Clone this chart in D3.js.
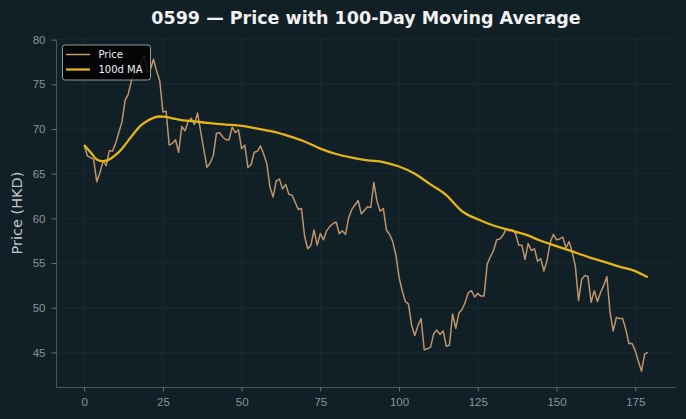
<!DOCTYPE html>
<meta charset="utf-8">
<style>
  body { margin: 0; background: #111f27; }
  svg { display: block; font-family: "DejaVu Sans", sans-serif; }
  .tick text { fill: #8d9399; font-size: 11.5px; }
  .tick line { stroke: #6b7176; }
  .domain { stroke: #4c5357; }
</style>
<body>
<script src="https://d3js.org/d3.v7.min.js"></script>
<script>

// daily closing price, day 0..179
var price = [
  68.2, 67.0, 66.8, 66.6, 64.1, 65.1, 66.4, 65.9, 67.6, 67.5,
  68.4, 69.6, 70.8, 73.2, 73.9, 75.4, 76.2, 76.7, 77.5, 78.3,
  76.4, 76.6, 77.8, 76.5, 75.4, 71.9, 72.0, 68.2, 68.4, 68.8,
  67.4, 70.3, 69.8, 70.8, 71.2, 70.5, 71.8, 69.7, 67.7, 65.7,
  66.2, 67.0, 69.5, 69.6, 69.1, 68.8, 68.8, 70.2, 69.6, 69.9,
  67.8, 68.2, 65.7, 66.0, 67.4, 67.5, 68.1, 67.2, 66.1, 63.5,
  62.4, 64.2, 64.4, 63.3, 63.8, 62.7, 62.6, 61.8, 61.0, 61.1,
  58.0, 56.6, 57.0, 58.7, 57.0, 58.3, 57.6, 58.6, 59.1, 59.4,
  59.6, 58.3, 58.6, 58.2, 60.1, 61.0, 61.5, 62.0, 60.5, 60.9,
  61.3, 61.2, 64.0, 61.9, 60.8, 61.1, 58.7, 58.2, 57.4, 55.9,
  53.4, 51.9, 50.7, 50.4, 48.0, 46.9, 48.0, 48.8, 45.3, 45.4,
  45.6, 47.1, 47.5, 47.0, 47.4, 45.7, 45.8, 49.3, 47.7, 49.4,
  49.8, 50.6, 51.7, 51.9, 51.2, 51.6, 51.3, 51.3, 54.9, 55.7,
  56.4, 57.6, 57.7, 58.1, 58.8, 58.6, 58.7, 58.3, 57.0, 57.0,
  55.4, 57.2, 56.4, 56.6, 55.2, 55.5, 54.1, 55.3, 57.3, 58.2,
  57.6, 57.7, 57.9, 56.7, 57.4, 56.2, 54.6, 50.8, 53.2, 53.6,
  53.5, 50.6, 51.9, 50.7, 51.7, 52.5, 53.5, 49.5, 47.4, 48.9,
  48.8, 48.8, 47.6, 46.0, 46.0, 45.2, 44.0, 42.9, 44.8, 45.0
];

// 100-day moving average, read at these days
var maDays = [0, 2, 4, 6, 8, 10, 12, 14, 16, 18, 20, 22, 24, 26, 28, 30, 35, 40, 45, 50,
  55, 60, 65, 70, 75, 80, 85, 90, 95, 100, 105, 110, 115, 120, 125, 130, 135, 140, 145, 150,
  155, 160, 165, 170, 175, 179];
var maValues = [68.2, 67.4, 66.6, 66.4, 66.6, 67.1, 67.8, 68.7, 69.6, 70.4, 70.9, 71.25, 71.4, 71.35, 71.2, 71.05, 70.85, 70.65, 70.5, 70.35,
  70.05, 69.7, 69.2, 68.6, 67.8, 67.2, 66.8, 66.5, 66.3, 65.8, 65.0, 63.8, 62.6, 60.8, 59.9, 59.2, 58.7, 58.2, 57.5, 56.9,
  56.3, 55.7, 55.15, 54.6, 54.1, 53.4];

var xTicks = [0, 25, 50, 75, 100, 125, 150, 175];
var yTicks = [45, 50, 55, 60, 65, 70, 75, 80];

var width = 686, height = 419;
var margin = {top: 39, right: 10, bottom: 32, left: 56};

var svg = d3.select("body").append("svg")
    .attr("width", width)
    .attr("height", height);

svg.append("rect").attr("width", width).attr("height", height).attr("fill", "#111f27");

// matplotlib-style 5% padding
var n = price.length;
var xPad = (n - 1) * 0.05;
var yMin = d3.min(price), yMax = d3.max(price);
var yPad = (yMax - yMin) * 0.05;

var x = d3.scaleLinear()
    .domain([-xPad, n - 1 + xPad])
    .range([margin.left, width - margin.right]);
var y = d3.scaleLinear()
    .domain([yMin - yPad, yMax + yPad])
    .range([height - margin.bottom, margin.top]);

// grid
var grid = svg.append("g").attr("stroke", "#ffffff").attr("stroke-opacity", 0.045);
grid.selectAll(".gx").data(xTicks).enter().append("line")
    .attr("x1", function(d) { return x(d); }).attr("x2", function(d) { return x(d); })
    .attr("y1", margin.top).attr("y2", height - margin.bottom);
grid.selectAll(".gy").data(yTicks).enter().append("line")
    .attr("y1", function(d) { return y(d); }).attr("y2", function(d) { return y(d); })
    .attr("x1", margin.left).attr("x2", width - margin.right);

svg.append("g")
    .attr("transform", "translate(0," + (height - margin.bottom) + ")")
    .call(d3.axisBottom(x).tickValues(xTicks).tickSize(4.5).tickPadding(6).tickSizeOuter(0));
svg.append("g")
    .attr("transform", "translate(" + margin.left + ",0)")
    .call(d3.axisLeft(y).tickValues(yTicks).tickSize(4.5).tickPadding(6).tickSizeOuter(0));

var priceLine = d3.line()
    .x(function(d, i) { return x(i); })
    .y(function(d) { return y(d); });

svg.append("path")
    .datum(price)
    .attr("d", priceLine)
    .attr("fill", "none")
    .attr("stroke", "#c99b6e")
    .attr("stroke-opacity", 0.95)
    .attr("stroke-width", 1.5)
    .attr("stroke-linejoin", "round");

var maLine = d3.line()
    .x(function(d, i) { return x(maDays[i]); })
    .y(function(d) { return y(d); })
    .curve(d3.curveMonotoneX);

svg.append("path")
    .datum(maValues)
    .attr("d", maLine)
    .attr("fill", "none")
    .attr("stroke", "#e5b517")
    .attr("stroke-width", 2.3);

// title + y label
svg.append("text")
    .attr("x", (margin.left + width - margin.right) / 2)
    .attr("y", 24)
    .attr("text-anchor", "middle")
    .attr("fill", "#f2f2f2")
    .style("font-size", "17.5px")
    .style("font-weight", "bold")
    .text("0599 \u2014 Price with 100-Day Moving Average");

svg.append("text")
    .attr("transform", "translate(22," + ((margin.top + height - margin.bottom) / 2) + ") rotate(-90)")
    .attr("text-anchor", "middle")
    .attr("fill", "#c3c7ca")
    .style("font-size", "14.5px")
    .text("Price (HKD)");

// legend
var legend = svg.append("g").attr("transform", "translate(62.5,45)");
legend.append("rect")
    .attr("width", 88).attr("height", 35).attr("rx", 2.5)
    .attr("fill", "#000000").attr("fill-opacity", 0.85)
    .attr("stroke", "#9a9a9a").attr("stroke-width", 1);
var items = [{label: "Price", color: "#c99b6e", w: 1.5}, {label: "100d MA", color: "#e5b517", w: 2.3}];
items.forEach(function(it, i) {
  var yy = 9.5 + i * 15;
  legend.append("line").attr("x1", 3.5).attr("x2", 27.5).attr("y1", yy).attr("y2", yy)
      .attr("stroke", it.color).attr("stroke-width", it.w);
  legend.append("text").attr("x", 36).attr("y", yy + 3.7)
      .attr("fill", "#f0f0f0").style("font-size", "10px").text(it.label);
});

</script>
</body>
